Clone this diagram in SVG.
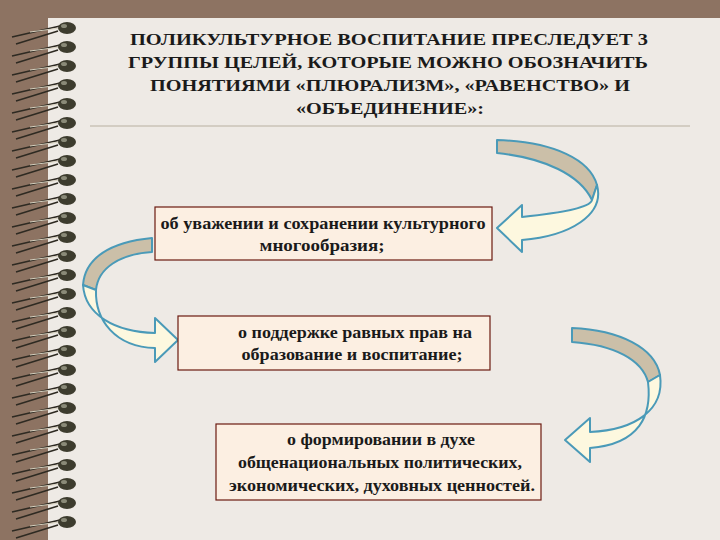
<svg xmlns="http://www.w3.org/2000/svg" width="720" height="540" viewBox="0 0 720 540">
<defs>
<style>
.t{font-family:"Liberation Serif","DejaVu Serif",serif;font-weight:bold;font-size:17px;fill:#1a1a1a;text-anchor:middle}
.b{font-family:"Liberation Serif","DejaVu Serif",serif;font-weight:bold;font-size:16px;fill:#1a1a1a;text-anchor:middle}
.box{fill:#fcefe2;stroke:#6b1a10;stroke-width:1.2}
.dk{fill:#cbbfa8;stroke:#4a9ab8;stroke-width:2;stroke-linejoin:round}
.lt{fill:#fdf8df;stroke:#4a9ab8;stroke-width:2;stroke-linejoin:round}
</style>
<g id="ring">
<path d="M12,37 L60,26 M16,44 L58,31" stroke="#2e2a22" stroke-width="1.6" fill="none"/>
<path d="M30,32 L60,28" stroke="#d8d2c0" stroke-width="1"/>
<ellipse cx="67" cy="28" rx="9" ry="6" fill="#3d3c2e"/>
<ellipse cx="64" cy="26" rx="3" ry="2" fill="#8a8a78"/>
</g>
</defs>
<rect width="720" height="540" fill="#8d7362"/>
<rect x="48" y="18" width="672" height="522" fill="#eeeae5"/>
<g id="binding">
<use href="#ring" transform="translate(0,0)"/><use href="#ring" transform="translate(0,19)"/><use href="#ring" transform="translate(0,38)"/><use href="#ring" transform="translate(0,57)"/><use href="#ring" transform="translate(0,76)"/><use href="#ring" transform="translate(0,95)"/><use href="#ring" transform="translate(0,114)"/><use href="#ring" transform="translate(0,133)"/><use href="#ring" transform="translate(0,152)"/><use href="#ring" transform="translate(0,171)"/><use href="#ring" transform="translate(0,190)"/><use href="#ring" transform="translate(0,209)"/><use href="#ring" transform="translate(0,228)"/><use href="#ring" transform="translate(0,247)"/><use href="#ring" transform="translate(0,266)"/><use href="#ring" transform="translate(0,285)"/><use href="#ring" transform="translate(0,304)"/><use href="#ring" transform="translate(0,323)"/><use href="#ring" transform="translate(0,342)"/><use href="#ring" transform="translate(0,361)"/><use href="#ring" transform="translate(0,380)"/><use href="#ring" transform="translate(0,399)"/><use href="#ring" transform="translate(0,418)"/><use href="#ring" transform="translate(0,437)"/><use href="#ring" transform="translate(0,456)"/><use href="#ring" transform="translate(0,475)"/><use href="#ring" transform="translate(0,494)"/>
</g>
<g id="title">
<text class="t" x="389" y="45" textLength="518" lengthAdjust="spacingAndGlyphs">ПОЛИКУЛЬТУРНОЕ ВОСПИТАНИЕ ПРЕСЛЕДУЕТ 3</text>
<text class="t" x="388" y="68" textLength="520" lengthAdjust="spacingAndGlyphs">ГРУППЫ ЦЕЛЕЙ, КОТОРЫЕ МОЖНО ОБОЗНАЧИТЬ</text>
<text class="t" x="390" y="91" textLength="480" lengthAdjust="spacingAndGlyphs">ПОНЯТИЯМИ «ПЛЮРАЛИЗМ», «РАВЕНСТВО» И</text>
<text class="t" x="390" y="114" textLength="188" lengthAdjust="spacingAndGlyphs">«ОБЪЕДИНЕНИЕ»:</text>
<line x1="90" y1="126" x2="690" y2="126" stroke="#b8b0a0" stroke-width="1"/>
</g>
<g id="connectors">
<path class="dk" d="M497,140 C555,142 590,160 597,185 L592,200 C580,175 545,158 497,153 Z"/>
<path class="lt" d="M597,185 C605,215 570,236 522,240 L522,252 L497,228 L522,205 L522,217 C560,213 590,208 592,200 Z"/>
<path class="dk" d="M152,238 C110,242 85,258 83,285 L96,290 C98,268 120,254 152,252 Z"/>
<path class="lt" d="M83,285 C85,315 115,332 155,333 L155,318 L178,340 L155,362 L155,348 C115,347 95,320 96,290 Z"/>
<path class="dk" d="M572,328 C620,330 655,348 660,375 L648,382 C642,360 615,345 572,342 Z"/>
<path class="lt" d="M660,375 C665,410 635,430 590,432 L590,418 L565,440 L590,462 L590,448 C640,444 652,415 648,382 Z"/>
</g>
<g id="node1">
<rect class="box" x="155" y="207" width="337" height="53"/>
<text class="b" x="323" y="229" textLength="325" lengthAdjust="spacingAndGlyphs">об уважении и сохранении культурного</text>
<text class="b" x="322" y="251" textLength="125" lengthAdjust="spacingAndGlyphs">многообразия;</text>
</g>
<g id="node2">
<rect class="box" x="178" y="316" width="312" height="54"/>
<text class="b" x="355" y="338" textLength="234" lengthAdjust="spacingAndGlyphs">о поддержке равных прав на</text>
<text class="b" x="352" y="360" textLength="221" lengthAdjust="spacingAndGlyphs">образование и воспитание;</text>
</g>
<g id="node3">
<rect class="box" x="216" y="424" width="325" height="76"/>
<text class="b" x="381" y="445" textLength="188" lengthAdjust="spacingAndGlyphs">о формировании в духе</text>
<text class="b" x="380" y="468" textLength="284" lengthAdjust="spacingAndGlyphs">общенациональных политических,</text>
<text class="b" x="382" y="491" textLength="306" lengthAdjust="spacingAndGlyphs">экономических, духовных ценностей.</text>
</g>
</svg>
